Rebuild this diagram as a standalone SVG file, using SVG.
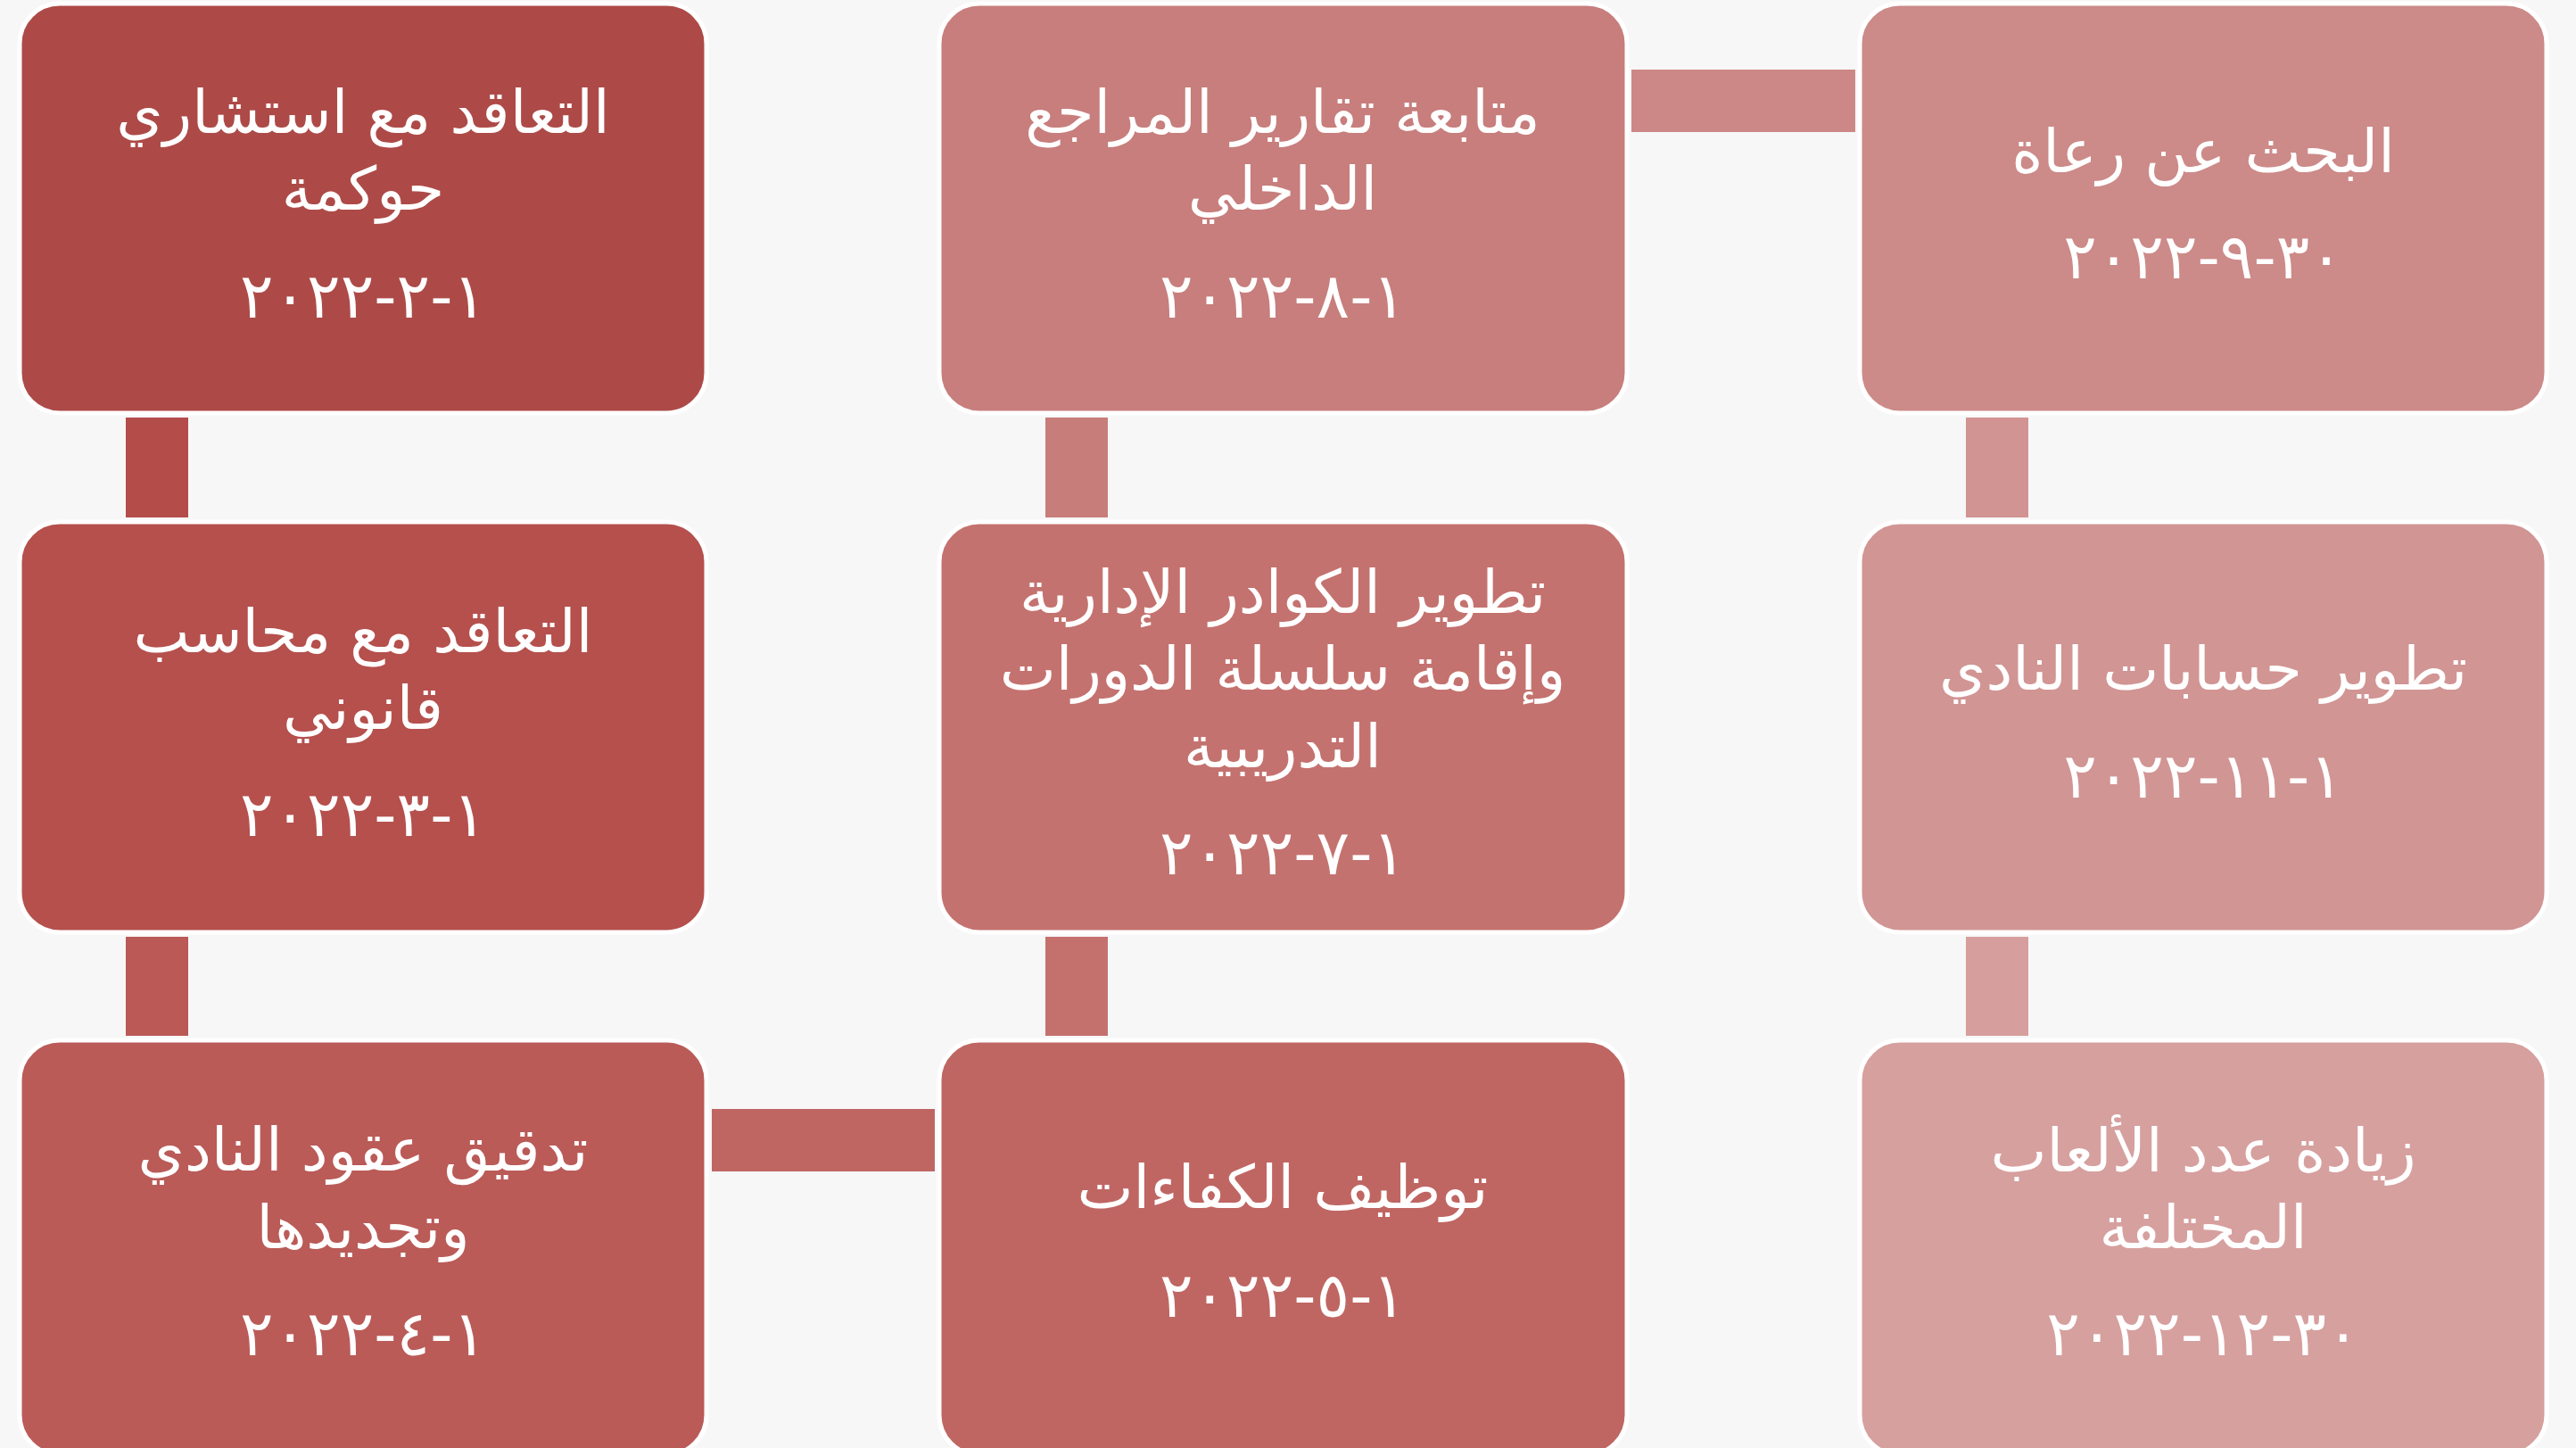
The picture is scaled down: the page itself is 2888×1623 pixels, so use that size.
<svg xmlns="http://www.w3.org/2000/svg" width="2888" height="1623" viewBox="0 0 2888 1623">
<style>
.box{stroke:#FFFFFF;stroke-width:5}
.t{font-family:"DejaVu Sans",sans-serif;font-size:67px;fill:#FFFFFF;text-anchor:middle;direction:rtl}
.d{font-family:"DejaVu Sans",sans-serif;font-size:70px;fill:#FFFFFF;text-anchor:middle;direction:rtl}
</style>
<rect x="0" y="0" width="2888" height="1623" fill="#F8F7F8"/>
<g id="connectors">
<rect x="141" y="468" width="70" height="112" fill="#B44C4A"/>
<rect x="141" y="1050" width="70" height="111" fill="#BA5956"/>
<rect x="798" y="1243" width="250" height="70" fill="#BF6663"/>
<rect x="1172" y="1050" width="70" height="111" fill="#C4716E"/>
<rect x="1172" y="468" width="70" height="112" fill="#C77D7A"/>
<rect x="1829" y="78" width="251" height="70" fill="#CC8886"/>
<rect x="2204" y="468" width="70" height="112" fill="#D19492"/>
<rect x="2204" y="1050" width="70" height="111" fill="#D69F9E"/>
</g>
<g id="n1">
<rect class="box" x="22" y="4" width="770" height="459" rx="45" fill="#AD4A47"/>
<text class="t" x="407" y="149">التعاقد مع استشاري</text>
<text class="t" x="407" y="235">حوكمة</text>
<text class="d" x="407" y="356">١-٢-٢٠٢٢</text>
</g>
<g id="n2">
<rect class="box" x="22" y="585" width="770" height="460" rx="45" fill="#B5504D"/>
<text class="t" x="407" y="731">التعاقد مع محاسب</text>
<text class="t" x="407" y="817">قانوني</text>
<text class="d" x="407" y="937">١-٣-٢٠٢٢</text>
</g>
<g id="n3">
<rect class="box" x="22" y="1166" width="770" height="465" rx="45" fill="#BA5B58"/>
<text class="t" x="407" y="1312">تدقيق عقود النادي</text>
<text class="t" x="407" y="1399">وتجديدها</text>
<text class="d" x="407" y="1519">١-٤-٢٠٢٢</text>
</g>
<g id="n4">
<rect class="box" x="1053" y="1166" width="771" height="465" rx="45" fill="#BF6663"/>
<text class="t" x="1438" y="1354">توظيف الكفاءات</text>
<text class="d" x="1438" y="1476">١-٥-٢٠٢٢</text>
</g>
<g id="n5">
<rect class="box" x="1053" y="585" width="771" height="460" rx="45" fill="#C4726F"/>
<text class="t" x="1438" y="687">تطوير الكوادر الإدارية</text>
<text class="t" x="1438" y="773">وإقامة سلسلة الدورات</text>
<text class="t" x="1438" y="860">التدريبية</text>
<text class="d" x="1438" y="980">١-٧-٢٠٢٢</text>
</g>
<g id="n6">
<rect class="box" x="1053" y="4" width="771" height="459" rx="45" fill="#C77E7C"/>
<text class="t" x="1438" y="149">متابعة تقارير المراجع</text>
<text class="t" x="1438" y="235">الداخلي</text>
<text class="d" x="1438" y="356">١-٨-٢٠٢٢</text>
</g>
<g id="n7">
<rect class="box" x="2085" y="4" width="770" height="459" rx="45" fill="#CC8A88"/>
<text class="t" x="2470" y="193">البحث عن رعاة</text>
<text class="d" x="2470" y="312">٣٠-٩-٢٠٢٢</text>
</g>
<g id="n8">
<rect class="box" x="2085" y="585" width="770" height="460" rx="45" fill="#D19594"/>
<text class="t" x="2470" y="773">تطوير حسابات النادي</text>
<text class="d" x="2470" y="894">١-١١-٢٠٢٢</text>
</g>
<g id="n9">
<rect class="box" x="2085" y="1166" width="770" height="465" rx="45" fill="#D6A09F"/>
<text class="t" x="2470" y="1313">زيادة عدد الألعاب</text>
<text class="t" x="2470" y="1399">المختلفة</text>
<text class="d" x="2470" y="1519">٣٠-١٢-٢٠٢٢</text>
</g>
</svg>
